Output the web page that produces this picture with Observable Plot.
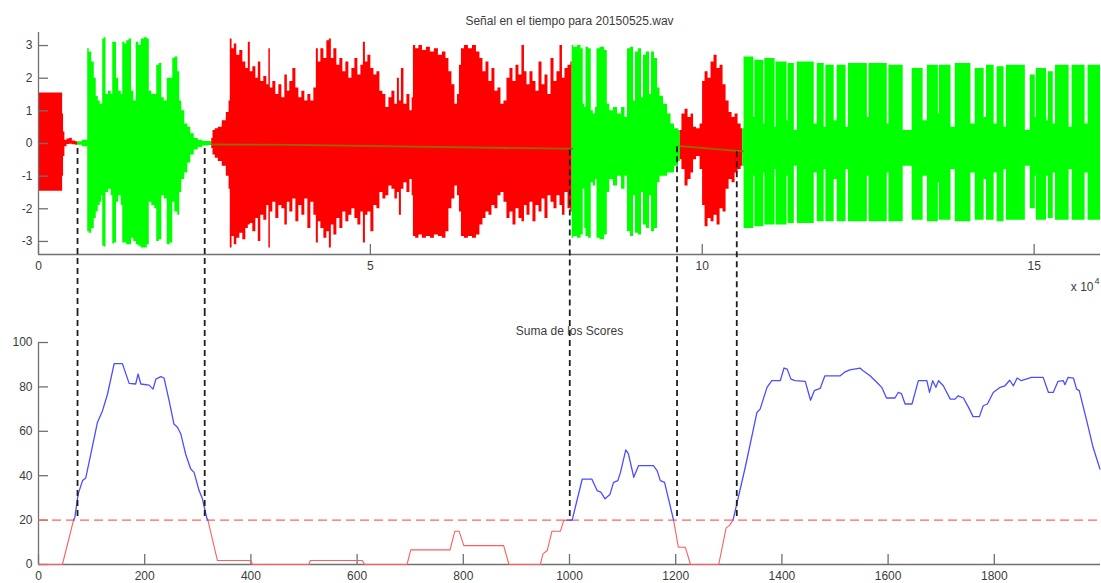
<!DOCTYPE html>
<html><head><meta charset="utf-8">
<script src="https://cdn.jsdelivr.net/npm/d3@7"></script>
<script src="https://cdn.jsdelivr.net/npm/@observablehq/plot@0.6"></script>
<style>
html,body{margin:0;padding:0;background:#fff;}
#chart{width:1101px;height:583px;overflow:hidden;background:#fff;}
#chart svg{display:block;}
</style></head><body><div id="chart"></div>
<script>
// ---------------- DATA ----------------
const topTitle = "Señal en el tiempo para 20150525.wav";
const bottomTitle = "Suma de los Scores";
const sigDomainX = [0, 160000];
const sigDomainY = [-3.4, 3.4];
const sigTicksX = [0, 50000, 100000, 150000];
const sigTicksY = [-3, -2, -1, 0, 1, 2, 3];
const scoreDomainX = [0, 2000];
const scoreDomainY = [0, 100];
const scoreTicksX = [0, 200, 400, 600, 800, 1000, 1200, 1400, 1600, 1800];
const scoreTicksY = [0, 20, 40, 60, 80, 100];
const threshold = 20;
const samplesPerScore = 80;

// waveform envelopes: [sample, upper, lower]
const red0 = [[0,1.55,-1.46],[3570,1.55,-1.46],[3700,0.9,-1.0],[3850,0.35,-0.4],[4100,0.1,-0.1],[4500,0.14,-0.03],[4900,0.16,-0.02],[5300,0.08,-0.04],[5880,0.05,-0.05]];
const green1 = [[5880,0.05,-0.05],[7340,0.1,-0.1],[7490,2.9,-2.7],[7790,2.8,-2.75],[8250,2.5,-2.6],[8550,2.0,-2.3],[8850,1.45,-2.1],[9150,1.3,-1.9],[9450,1.2,-1.8],[9600,1.2,-1.6],[9750,3.2,-3.15],[10060,3.24,-3.17],[10280,1.5,-1.5],[10810,1.6,-1.4],[11110,1.5,-1.6],[11260,3.1,-3.08],[11640,3.1,-3.05],[11860,2.0,-1.8],[12320,1.6,-1.6],[12620,1.5,-1.9],[12770,3.1,-3.05],[13220,3.05,-3.05],[13370,3.15,-3.1],[13900,3.2,-3.1],[14130,1.6,-2.9],[14580,1.3,-3.0],[14880,3.1,-3.1],[15330,3.0,-3.15],[15630,3.2,-3.2],[16240,3.24,-3.2],[16540,3.2,-3.1],[16840,1.6,-1.8],[17290,1.5,-1.9],[17740,1.5,-2.0],[17890,2.4,-3.0],[18500,2.45,-2.95],[18650,1.4,-1.6],[19250,1.3,-1.7],[19550,2.0,-3.1],[20150,2.0,-3.05],[20310,2.6,-1.8],[20760,2.65,-2.1],[21210,2.2,-2.2],[21360,1.3,-1.5],[21810,1.0,-1.1],[22270,0.6,-0.9],[22720,0.5,-0.6],[23170,0.3,-0.35],[23770,0.15,-0.2],[24380,0.1,-0.12],[25130,0.06,-0.08],[26100,0.06,-0.06]];
const red1 = [[26100,0.15,-0.15],[26480,0.4,-0.35],[26790,0.45,-0.45],[27390,0.5,-0.55],[27990,0.7,-0.7],[28600,0.95,-1.0],[28820,1.3,-1.4],[28970,3.2,-3.2],[29350,2.9,-2.85],[29650,3.05,-3.1],[30100,2.7,-2.9],[30560,2.85,-2.75],[31010,2.5,-2.95],[31460,2.3,-2.6],[31760,3.1,-2.5],[32060,2.2,-2.45],[32520,2.35,-2.7],[32970,2.0,-2.3],[33270,2.5,-3.0],[33720,1.9,-2.2],[34170,2.05,-2.35],[34630,1.8,-1.9],[34780,2.9,-3.2],[35080,1.7,-2.1],[35530,1.9,-1.8],[35980,1.5,-2.3],[36440,1.8,-1.9],[36890,1.4,-2.0],[37340,2.1,-2.5],[37640,1.6,-1.8],[38090,1.9,-2.1],[38550,2.3,-1.7],[39000,1.7,-2.4],[39450,1.4,-1.9],[39900,1.6,-2.2],[40350,1.3,-1.7],[40810,1.5,-2.6],[41260,1.3,-1.8],[41710,1.7,-2.2],[42010,2.9,-3.05],[42310,2.5,-2.4],[42770,2.9,-2.6],[43220,2.6,-2.9],[43670,3.15,-2.7],[43970,3.2,-3.2],[44270,2.6,-2.5],[44730,2.9,-2.8],[45180,2.4,-2.3],[45630,2.6,-2.6],[46080,2.2,-2.1],[46530,2.5,-2.4],[46990,2.0,-2.2],[47440,2.3,-2.0],[47890,2.6,-2.3],[48340,2.1,-2.5],[48800,2.4,-2.1],[49100,3.1,-3.05],[49400,2.5,-2.2],[49850,2.7,-2.1],[50300,2.3,-2.7],[50760,2.1,-1.9],[51210,2.2,-2.0],[51660,1.6,-1.5],[52110,1.5,-1.7],[52560,1.1,-1.6],[53020,1.4,-1.3],[53470,1.6,-1.4],[53920,1.2,-1.7],[54220,2.0,-1.5],[54520,1.3,-2.2],[54830,2.3,-1.4],[55280,1.2,-1.2],[55730,1.5,-1.5],[56180,1.0,-1.1],[56410,1.4,-1.6],[56560,3.0,-2.85],[57090,2.9,-2.9],[57540,3.0,-2.8],[58140,2.85,-2.9],[58740,2.95,-2.85],[59350,2.8,-2.9],[59950,2.9,-2.8],[60550,2.7,-2.85],[61160,2.8,-2.9],[61610,2.6,-2.7],[62060,2.2,-2.0],[62510,1.8,-1.7],[62970,1.2,-1.3],[63270,1.5,-1.6],[63570,2.4,-2.1],[63870,2.9,-2.85],[64470,3.0,-2.9],[65080,2.9,-2.85],[65680,3.0,-2.9],[66280,2.8,-2.8],[66730,2.6,-2.5],[67190,2.2,-2.3],[67640,2.5,-2.1],[68090,1.9,-2.2],[68540,2.3,-1.9],[68990,1.6,-2.0],[69450,1.7,-1.6],[69900,1.2,-1.5],[70350,1.3,-1.8],[70800,2.0,-2.3],[71260,2.3,-2.1],[71710,1.9,-2.5],[72160,2.4,-2.0],[72610,2.1,-2.3],[73060,3.0,-2.4],[73370,2.2,-1.9],[73820,1.8,-2.2],[74270,2.2,-1.8],[74720,1.9,-2.4],[75180,1.6,-1.9],[75630,2.5,-2.1],[76080,1.8,-1.7],[76530,2.1,-2.3],[76980,1.5,-1.6],[77440,2.6,-1.8],[77890,1.9,-2.0],[78340,2.2,-1.6],[78790,3.0,-1.9],[79090,2.0,-2.2],[79550,2.3,-1.5],[80000,2.4,-2.0],[80400,2.5,-2.1]];
const green2 = [[80400,3.0,-2.9],[80900,2.95,-2.85],[81510,3.0,-2.9],[81960,2.9,-2.8],[82180,1.2,-1.4],[82410,1.1,-2.6],[82560,2.95,-2.85],[83160,2.9,-2.9],[83390,1.0,-1.2],[83770,0.9,-1.3],[84070,1.1,-1.1],[84220,2.9,-2.9],[84970,2.95,-2.95],[85580,2.85,-2.8],[85800,1.2,-1.5],[86330,1.0,-1.1],[86930,1.1,-1.3],[87540,0.9,-1.0],[88140,1.1,-1.4],[88590,0.8,-1.0],[88890,2.9,-2.7],[89500,2.95,-2.85],[89800,1.3,-1.6],[90100,2.8,-2.75],[90700,2.9,-2.8],[91000,1.4,-1.5],[91300,2.7,-2.5],[91910,2.8,-2.6],[92210,1.5,-1.6],[92510,2.8,-2.7],[93110,2.6,-2.6],[93410,1.7,-1.2],[93870,1.45,-1.0],[94470,1.2,-1.0],[95070,0.9,-0.9],[95520,0.6,-0.9],[96130,0.45,-0.7],[96700,0.4,-0.55]];
const red2 = [[96700,0.4,-0.5],[97180,0.9,-0.8],[97630,1.05,-1.3],[98090,0.8,-1.1],[98540,0.9,-0.9],[98840,0.5,-0.5],[99440,0.45,-0.4],[99900,0.6,-0.8],[100200,1.9,-1.9],[100650,2.2,-2.55],[101100,2.0,-2.3],[101550,2.5,-2.4],[102010,2.7,-2.2],[102460,2.3,-2.5],[102910,2.4,-2.0],[103360,1.8,-2.1],[103820,1.3,-1.4],[104270,0.95,-1.1],[104720,0.8,-1.2],[105170,0.9,-0.9],[105620,0.6,-0.8],[106100,0.45,-0.7]];
// last segment: loud bursts [start, end, upper, lower, gapUpper, gapLower]
const green3Start = [106100, 0.45, -0.7];
const green3Bursts = [[106500,107700,2.65,-2.6,0.8,-1.0],[108000,109200,2.55,-2.55,0.6,-0.9],[109500,110900,2.6,-2.5,0.5,-0.8],[111200,112700,2.5,-2.5,0.7,-1.0],[113000,113800,2.45,-2.45,0.4,-0.7],[114400,116800,2.5,-2.45,0.6,-0.9],[117400,118300,2.45,-2.4,0.5,-0.8],[118700,119800,2.4,-2.4,0.7,-1.1],[120400,121600,2.4,-2.4,0.5,-0.8],[122100,124800,2.45,-2.4,0.8,-1.0],[125200,127800,2.45,-2.4,0.6,-0.9],[128200,130200,2.4,-2.4,0.4,-0.7],[131700,133200,2.3,-2.35,0.7,-1.0],[134000,135500,2.4,-2.4,0.9,-1.2],[135800,137400,2.4,-2.35,0.5,-0.8],[138200,140400,2.45,-2.4,0.6,-0.9],[141200,142400,2.3,-2.35,0.8,-1.1],[142900,143900,2.4,-2.35,0.6,-0.9],[144500,145400,2.35,-2.4,0.5,-0.8],[145900,148600,2.4,-2.35,0.4,-0.7],[149500,150100,2.1,-2.0,0.8,-1.0],[150400,151800,2.3,-2.35,0.7,-1.0],[152200,152800,2.2,-2.3,0.6,-0.9],[153300,155200,2.4,-2.35,0.5,-0.8],[155800,157600,2.4,-2.35,0.6,-0.9],[158200,160000,2.4,-2.35,0.6,-0.9]];
// slow trend line visible inside the red (non-speech) parts: [sample, value]
const trend1 = [[26100,-0.03],[38700,-0.04],[53800,-0.09],[79000,-0.16],[80400,-0.16]];
const trend2 = [[96700,-0.08],[106100,-0.24]];

// segment boundaries (in score frames) and start level of the connectors
const dashScores = [73.5, 313, 1000.5, 1202.5, 1315];
const dashLevels = [-0.15, -0.15, -0.2, -0.1, -0.25];

// score sum: [frame, value]
const scoreSeries = [[0,0],[45,0],[66,20],[68.5,21.3],[74.7,31.8],[83,37.8],[89,39],[98.6,49.8],[111,64],[120.6,69.3],[130,76.8],[142.5,90.5],[158,90.5],[170.7,81.6],[183,81.3],[187.6,85.8],[192.7,81.3],[208.3,80.8],[215.8,79],[221,83.5],[230.3,84.6],[236.5,84],[246,73.8],[255,63.3],[261.7,61.8],[268,58.8],[277,49.8],[286.7,43],[293,41.5],[302.4,33.3],[308.7,29.6],[316.8,21],[319,20],[337,1.8],[400,1.8],[403,0],[509,0],[512,1.8],[610,1.8],[614,0],[694,0],[701,6.6],[775,6.6],[784,15],[792,15],[801,8.5],[876,8.5],[886,0],[945,0],[950,4.8],[958,6.3],[967,15],[983,15],[989,19.8],[995,20],[1005,20],[1024,38.5],[1042,38.5],[1052,33.3],[1059,32.6],[1067,29.6],[1076,31.5],[1083,37],[1091,37.8],[1096,41.5],[1106,51.6],[1111,49.8],[1121,39.3],[1130,44.5],[1158,44.5],[1165,42.3],[1171,37.8],[1179,37],[1196,20],[1205,7.8],[1218,7.8],[1228,0],[1281,0],[1295,16.5],[1301,17.5],[1308,20],[1331,43.8],[1353,68.5],[1359,70],[1372,79.8],[1381,82.8],[1397,82.8],[1404,88.5],[1410,88],[1417,83.5],[1425,82.8],[1444,82.5],[1454,74],[1461,78.3],[1472,79.3],[1481,85],[1510,85],[1519,86.8],[1528,87.7],[1547,88.5],[1553,87.3],[1566,85],[1579,82],[1588,79.8],[1597,75],[1613,75],[1619,77.5],[1625,77],[1632,72.3],[1645,72.3],[1657,82.8],[1673,82.8],[1678,77.5],[1684,82.8],[1690,79.8],[1695,82.8],[1704,80.5],[1717,74.5],[1726,74.5],[1732,76],[1742,75],[1751,71],[1760,66.6],[1772,66.6],[1779,71.5],[1787,72.3],[1798,77.5],[1811,79.8],[1820,80.5],[1829,83],[1836,80.5],[1843,84],[1851,82.8],[1870,84.3],[1892,84.3],[1902,77.5],[1911,77.5],[1920,82.5],[1930,82.8],[1933,81],[1939,84.3],[1949,84],[1955,79],[1960,78.3],[1974,64.8],[1986,52.8],[1999,43]];

// ---------------- STYLE / LAYOUT ----------------
const W = 1101, TOP_H = 310, BOT_H = 273;
const ML = 38, MR = 1;
const TOP_MT = 32, TOP_MB = 56, BOT_MT = 32, BOT_MB = 19;
const TICK = 10;
const FONT = "'Liberation Sans', Arial, Helvetica, sans-serif";
const INK = "#3c3c3c", AXIS = "#707070";
const RED = "#ff0000", GREEN = "#00ff00", TREND = "#946a00";
const EDGE = 150; // burst edge width in samples

function burstEnvelope(start, bursts) {
  const pts = [start];
  bursts.forEach(([a, b, hi, lo, gh, gl], i) => {
    pts.push([a, hi, lo], [b, hi, lo]);
    const next = bursts[i + 1];
    if (next) pts.push([b + EDGE, gh, gl], [next[0] - EDGE, gh, gl]);
  });
  return pts;
}
const green3 = burstEnvelope(green3Start, green3Bursts);
const waveSegments = [[red0, RED], [green1, GREEN], [red1, RED], [green2, GREEN], [red2, RED], [green3, GREEN]];

function axes(xTicks, yTicks, xDomain, yDomain, xFormat, plotW, plotH) {
  return [
    Plot.ruleX([xDomain[0]], {stroke: AXIS, strokeWidth: 1.3}),
    Plot.ruleY([yDomain[0]], {stroke: AXIS, strokeWidth: 1.3}),
    Plot.tickX(xTicks, {x: d => d, insetTop: plotH - TICK, stroke: AXIS, strokeWidth: 1.3}),
    Plot.tickY(yTicks, {y: d => d, insetRight: plotW - TICK, stroke: AXIS, strokeWidth: 1.3}),
    Plot.axisX({ticks: xTicks, tickSize: 0, tickPadding: 7, tickFormat: xFormat, label: null, fontSize: 12}),
    Plot.axisY({ticks: yTicks, tickSize: 0, tickPadding: 6, tickFormat: d => String(d), label: null, fontSize: 12})
  ];
}

const topPlot = Plot.plot({
  width: W, height: TOP_H, marginLeft: ML, marginRight: MR, marginTop: TOP_MT, marginBottom: TOP_MB,
  style: {fontFamily: FONT, fontSize: "12px", color: INK, background: "#fff", overflow: "visible"},
  x: {domain: sigDomainX},
  y: {domain: sigDomainY},
  marks: [
    ...waveSegments.map(([env, col]) => Plot.areaY(env, {x: d => d[0], y1: d => d[2], y2: d => d[1], fill: col, curve: "step"})),
    ...[trend1, trend2].map(t => Plot.line(t, {x: d => d[0], y: d => d[1], stroke: TREND, strokeWidth: 1.8})),
    ...axes(sigTicksX, sigTicksY, sigDomainX, sigDomainY, d => String(d / 1e4), W - ML - MR, TOP_H - TOP_MT - TOP_MB),
    Plot.ruleX(dashScores.map((s, i) => ({x: s * samplesPerScore, y1: dashLevels[i]})),
      {x: "x", y1: "y1", y2: sigDomainY[0], insetBottom: -TOP_MB, stroke: "#1e1e1e", strokeWidth: 1.8, strokeDasharray: "6,4"}),
    Plot.text([topTitle], {text: d => d, frameAnchor: "top", dy: -16, fontSize: 12, fill: INK}),
    Plot.text(["x 10"], {text: d => d, frameAnchor: "bottom-right", textAnchor: "end", dx: -7, dy: 36, fontSize: 12, fill: INK}),
    Plot.text(["4"], {text: d => d, frameAnchor: "bottom-right", textAnchor: "start", dx: -6, dy: 29, fontSize: 9, fill: INK})
  ]
});

const bottomPlot = Plot.plot({
  width: W, height: BOT_H, marginLeft: ML, marginRight: MR, marginTop: BOT_MT, marginBottom: BOT_MB,
  style: {fontFamily: FONT, fontSize: "12px", color: INK, background: "#fff", overflow: "visible"},
  x: {domain: scoreDomainX},
  y: {domain: scoreDomainY},
  marks: [
    ...axes(scoreTicksX, scoreTicksY, scoreDomainX, scoreDomainY, d => String(d), W - ML - MR, BOT_H - BOT_MT - BOT_MB),
    Plot.ruleY([threshold], {stroke: "#ff6464", strokeWidth: 1.4, strokeDasharray: "9,5"}),
    Plot.line(scoreSeries, {x: d => d[0], y: d => d[1] <= threshold ? d[1] : NaN, stroke: "#ff5e5e", strokeWidth: 1.1}),
    Plot.line(scoreSeries, {x: d => d[0], y: d => d[1] >= threshold ? d[1] : NaN, stroke: "#4d4dff", strokeWidth: 1.3}),
    Plot.ruleX(dashScores, {x: d => d, y1: scoreDomainY[1], y2: threshold, insetTop: -BOT_MT, stroke: "#1e1e1e", strokeWidth: 1.8, strokeDasharray: "6,4"}),
    Plot.text([bottomTitle], {text: d => d, frameAnchor: "top", dy: -16, fontSize: 12, fill: INK})
  ]
});

const chart = document.getElementById("chart");
chart.appendChild(topPlot);
chart.appendChild(bottomPlot);
</script></body></html>
